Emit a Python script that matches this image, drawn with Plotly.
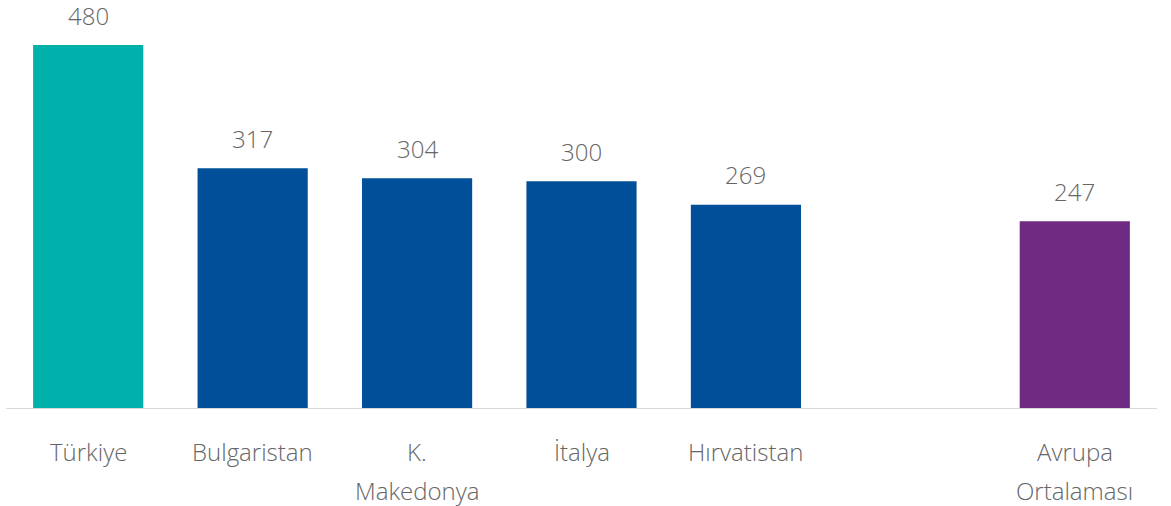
import plotly.graph_objects as go

categories = ["Türkiye", "Bulgaristan", "K. Makedonya", "İtalya", "Hırvatistan", "", "Avrupa Ortalaması"]
label_lines = [["Türkiye"], ["Bulgaristan"], ["K.", "Makedonya"], ["İtalya"], ["Hırvatistan"], [], ["Avrupa", "Ortalaması"]]
values = [480, 317, 304, 300, 269, None, 247]
colors = ["#00B0AA", "#004F98", "#004F98", "#004F98", "#004F98", "#004F98", "#6F2A82"]

FONT = "Open Sans"
GRAY = "#666666"

x_idx = list(range(len(categories)))

fig = go.Figure()
fig.add_trace(go.Bar(
    x=x_idx, y=values, marker=dict(color=colors, line=dict(width=0)),
    hoverinfo="skip",
))

annotations = []
for i, v in enumerate(values):
    if v is not None:
        annotations.append(dict(
            x=i, y=v, xref="x", yref="y", text=str(v), showarrow=False,
            yanchor="middle", yshift=30,
            font=dict(family=FONT, size=24, color=GRAY, weight=300),
        ))
for i, lines in enumerate(label_lines):
    for j, line in enumerate(lines):
        annotations.append(dict(
            x=i, y=0, xref="x", yref="paper", text=line, showarrow=False,
            yanchor="middle", yshift=-43 - 39 * j,
            font=dict(family=FONT, size=24, color=GRAY, weight=300),
        ))

fig.update_layout(
    width=1171, height=506,
    margin=dict(l=6, r=14, t=30, b=98),
    plot_bgcolor="white", paper_bgcolor="white",
    bargap=0.33,
    showlegend=False,
    annotations=annotations,
    xaxis=dict(range=[-0.5, 6.5], showticklabels=False, showgrid=False, zeroline=False,
               showline=True, linecolor="#D9D9D9", linewidth=1, ticks=""),
    yaxis=dict(range=[0, 500], visible=False),
)

fig.write_html("out.html")
